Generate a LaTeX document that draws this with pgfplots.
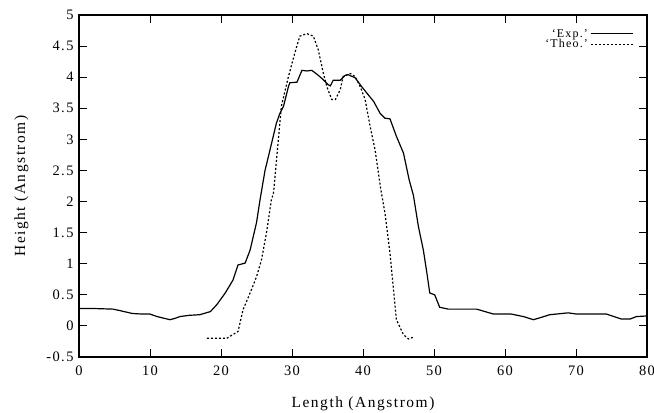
\documentclass[border=0pt]{standalone}
\usepackage{fontspec}
\setmainfont{Liberation Serif}[LetterSpace=10]
\usepackage{pgfplots}
\pgfplotsset{compat=1.18}
\begin{document}
\begin{tikzpicture}
\path[use as bounding box] (-79bp,-56bp) rectangle (575bp,357bp);
\begin{axis}[
  at={(0,0)}, anchor=south west,
  scale only axis, width=568bp, height=342bp,
  xmin=0, xmax=80, ymin=-0.5, ymax=5,
  xtick={0,10,...,80},
  ytick={-0.5,0,0.5,1,1.5,2,2.5,3,3.5,4,4.5,5},
  tick align=inside, major tick length=8bp,
  axis line style={line width=1.3pt},
  every tick/.style={black, line width=1pt},
  /pgf/number format/assume math mode=true,
  /pgf/number format/fixed,
  tick label style={font=\fontsize{14.5}{15}\selectfont},
  xticklabel style={yshift=-5bp},
  yticklabel style={xshift=-2bp},
  xlabel={Length (Angstrom)},
  ylabel={Height (Angstrom)},
  label style={font=\fontsize{15.5}{17}\selectfont},
  xlabel style={at={(axis description cs:0.5,-0.105)}, anchor=north},
  ylabel style={at={(axis description cs:-0.083,0.5)}, anchor=south, rotate=0},
  legend style={draw=none, fill=none, at={(0.976,0.965)}, anchor=north east,
    font=\fontsize{12}{13}\selectfont, inner sep=0pt, row sep=-3pt,
    legend cell align=right},
  legend plot pos=right,
  legend image code/.code={\draw[#1] (0bp,0bp) -- (42bp,0bp);},
]
\addplot[black, line width=1.2pt] coordinates {
(0,0.28) (2,0.28) (4.8,0.27) (6,0.24) (7.5,0.2) (9,0.19) (10,0.19) (11,0.15)
(12.8,0.10) (13.5,0.12) (14.2,0.15) (15.5,0.17) (17,0.18) (18.5,0.23) (19.4,0.34)
(20.6,0.53) (21.7,0.74) (22.4,0.98) (23.4,1.01) (24.1,1.22) (25.0,1.66) (25.5,2.03)
(26.2,2.5) (26.9,2.83) (27.8,3.26) (28.3,3.42) (28.8,3.53) (29.5,3.85) (29.7,3.91)
(30.7,3.92) (31.4,4.11) (32.1,4.10) (32.8,4.11) (33.7,4.03) (34.4,3.96) (35.1,3.88)
(35.4,3.86) (35.8,3.95) (36.8,3.95) (37.5,4.03) (37.9,4.04) (38.9,3.99) (39.8,3.85)
(40.5,3.75) (41.5,3.61) (42.4,3.42) (43.1,3.34) (43.8,3.33) (44.7,3.05) (45.7,2.78)
(46.5,2.35) (47.1,2.1) (47.8,1.60) (48.5,1.22) (49.0,0.85) (49.4,0.53) (50.1,0.50)
(50.8,0.30) (52.0,0.27) (56.0,0.27) (58.4,0.19) (60.9,0.19) (62.6,0.15) (64.0,0.10)
(64.9,0.13) (66.3,0.18) (68.9,0.21) (70.1,0.19) (74.3,0.19) (76.4,0.11) (77.6,0.11)
(78.5,0.15) (80,0.16)
};
\addlegendentry{`Exp.'}
\addplot[black, line width=1.2pt, dash pattern=on 2bp off 2bp] coordinates {
(18.0,-0.20) (20.8,-0.20) (22.4,-0.09) (23.1,0.26) (24.1,0.53) (25.0,0.79)
(25.7,1.06) (26.4,1.49) (27.1,2.03) (27.4,2.14) (28.5,3.53) (29.5,4.01) (30.4,4.39)
(31.1,4.66) (32.1,4.70) (33.0,4.66) (33.7,4.44) (34.4,4.07) (34.9,3.85) (35.6,3.64)
(36.1,3.64) (36.8,3.80) (37.2,4.01) (38.2,4.06) (38.9,4.01) (39.6,3.85) (40.3,3.64)
(41.0,3.21) (41.7,2.83) (42.5,2.2) (43.1,1.81) (43.8,1.17) (44.3,0.58) (44.7,0.10)
(45.7,-0.14) (46.4,-0.21) (47.1,-0.18)
};
\addlegendentry{`Theo.'}
\end{axis}
\end{tikzpicture}
\end{document}
